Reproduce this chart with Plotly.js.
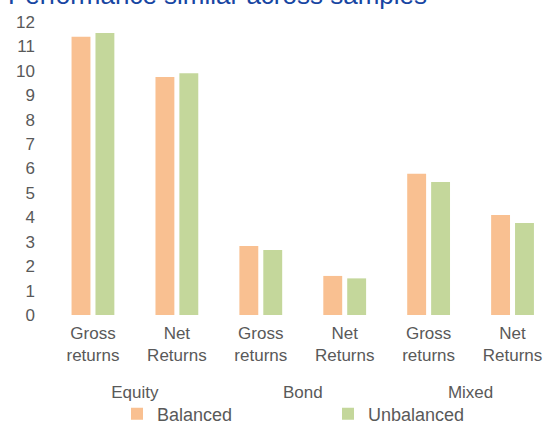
<!DOCTYPE html>
<html>
<head>
<meta charset="utf-8">
<script src="https://cdn.plot.ly/plotly-3.0.1.min.js"></script>
<style>
html, body { margin: 0; padding: 0; background: #ffffff; overflow: hidden; }
#chart { width: 544px; height: 423px; }
</style>
</head>
<body>
<div id="chart"></div>
<script>
const assetClasses = ['Equity', 'Equity', 'Bond', 'Bond', 'Mixed', 'Mixed'];
const returnTypes = ['Gross<br>returns', 'Net<br>Returns', 'Gross<br>returns', 'Net<br>Returns', 'Gross<br>returns', 'Net<br>Returns'];
const balanced = [11.4, 9.75, 2.83, 1.6, 5.78, 4.1];
const unbalanced = [11.55, 9.9, 2.66, 1.5, 5.45, 3.77];
const seriesNames = ['Balanced', 'Unbalanced'];
const yTicks = [0, 1, 2, 3, 4, 5, 6, 7, 8, 9, 10, 11, 12];
const titleText = 'Performance similar across samples';

const FONT = 'Liberation Sans, Arial, sans-serif';
const GRAY = '#595959';

// group labels get a blank first line so they sit lower, as in the reference
const groupLabels = assetClasses.map(g => '&nbsp;<br>' + g);

const traces = [
  {
    type: 'bar',
    name: seriesNames[0],
    x: [groupLabels, returnTypes],
    y: balanced,
    marker: { color: '#F9C091' },
    legend: 'legend',
    hoverinfo: 'skip'
  },
  {
    type: 'bar',
    name: seriesNames[1],
    x: [groupLabels, returnTypes],
    y: unbalanced,
    marker: { color: '#C4D79B' },
    legend: 'legend2',
    hoverinfo: 'skip'
  }
];

const legendBase = {
  orientation: 'h',
  xref: 'container', yref: 'container',
  xanchor: 'left',
  y: 1 - 414 / 423, yanchor: 'middle',
  font: { family: FONT, size: 18, color: GRAY },
  bgcolor: 'rgba(0,0,0,0)',
  borderwidth: 0
};

const layout = {
  width: 544,
  height: 423,
  margin: { l: 50.5, r: 0, t: 22, b: 108, pad: 0 },
  paper_bgcolor: '#ffffff',
  plot_bgcolor: '#ffffff',
  font: { family: FONT, size: 17, color: GRAY },
  title: {
    text: titleText,
    font: { family: FONT, size: 26, color: '#1746A2' },
    xref: 'container', yref: 'container',
    x: 8 / 544, xanchor: 'left',
    y: 1 - 4 / 423, yanchor: 'bottom'
  },
  barmode: 'group',
  bargap: 0.43,
  bargroupgap: 0.21,
  xaxis: {
    type: 'multicategory',
    range: [-0.5, 5.375],
    showdividers: false,
    showline: false,
    showgrid: false,
    zeroline: false,
    ticks: '',
    ticklabelstandoff: 6,
    tickfont: { family: FONT, size: 17, color: GRAY }
  },
  yaxis: {
    range: [0, 12],
    tickvals: yTicks,
    ticktext: yTicks.map(String),
    showgrid: false,
    zeroline: false,
    showline: false,
    ticks: '',
    ticklabelstandoff: 15,
    tickfont: { family: FONT, size: 17, color: GRAY }
  },
  showlegend: true,
  legend: Object.assign({}, legendBase, { x: 117 / 544 }),
  legend2: Object.assign({}, legendBase, { x: 328 / 544 })
};

Plotly.newPlot('chart', traces, layout, { staticPlot: true, displayModeBar: false });
</script>
</body>
</html>
